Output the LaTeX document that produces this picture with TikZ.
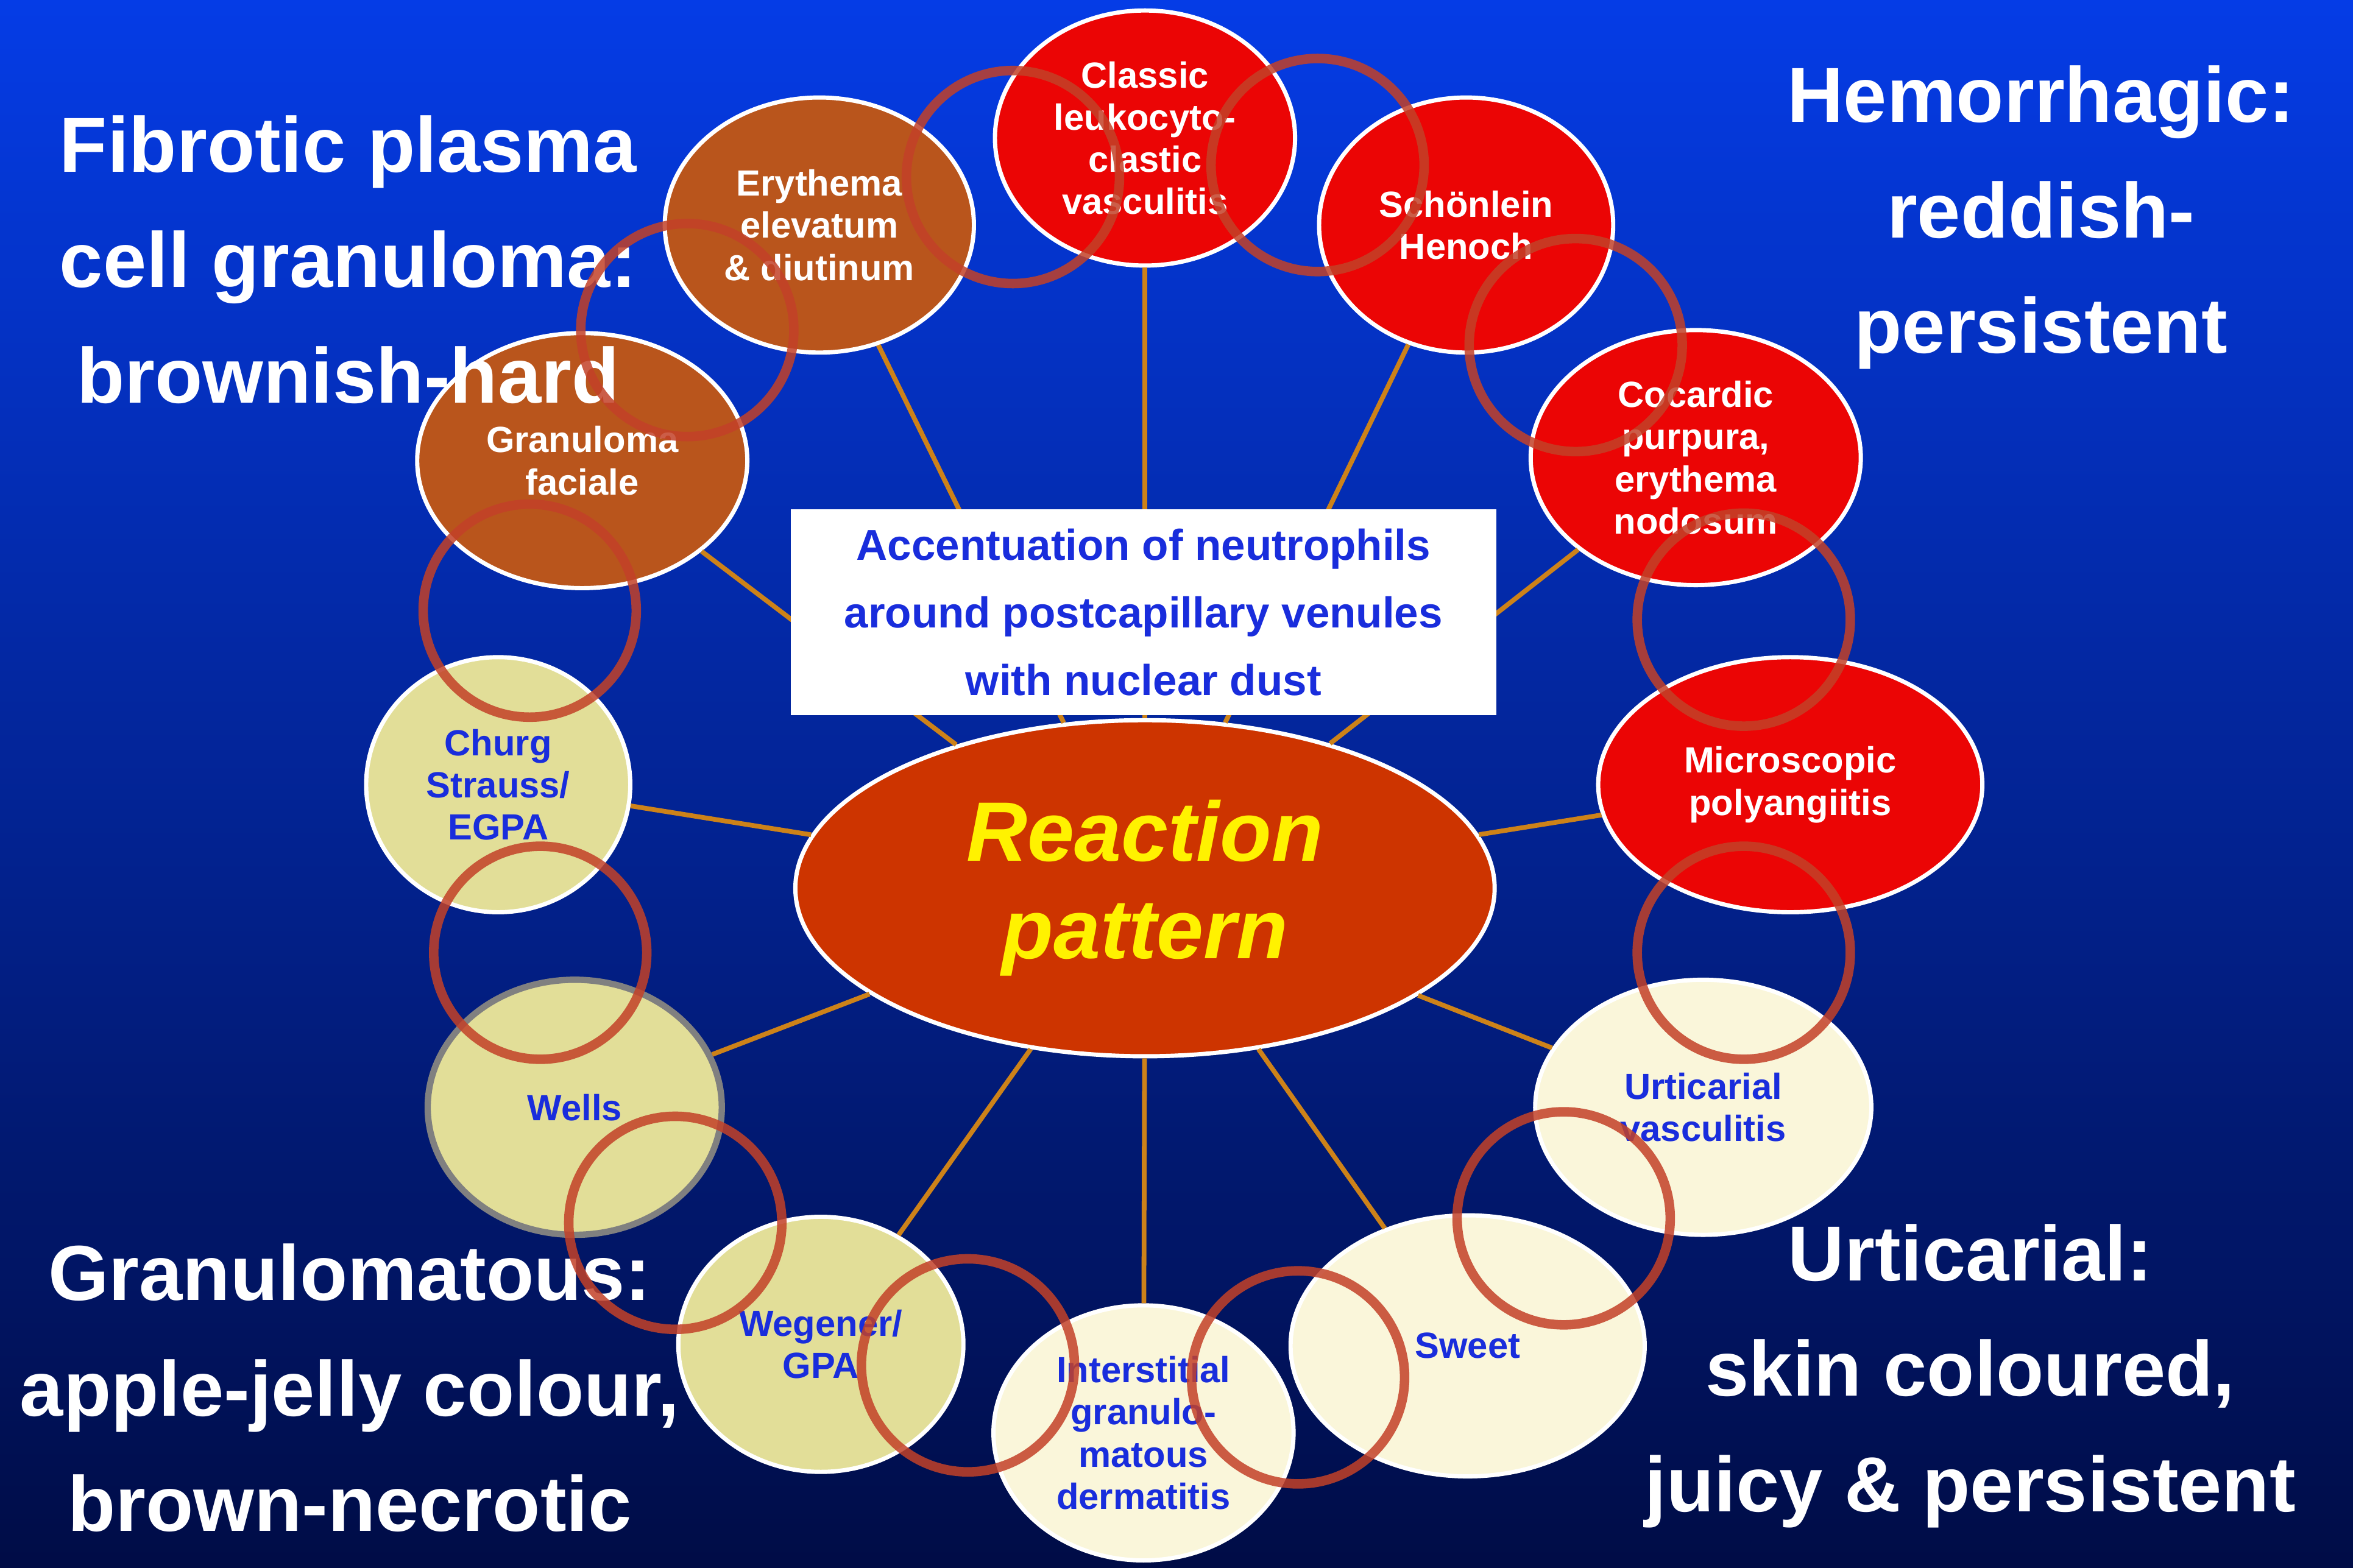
\documentclass[tikz,border=0pt]{standalone}
\usepackage{fontspec}
\setmainfont{Liberation Sans}
\usetikzlibrary{shapes.geometric}
\definecolor{Topcolor}{RGB}{5, 60, 230}
\definecolor{Botcolor}{RGB}{0, 12, 70}
\definecolor{Redcolor}{RGB}{235, 5, 5}
\definecolor{Browncolor}{RGB}{185, 85, 28}
\definecolor{Applecolor}{RGB}{226, 222, 152}
\definecolor{Skincolor}{RGB}{250, 246, 218}
\definecolor{Centercolor}{RGB}{205, 52, 0}
\definecolor{Linkcolor}{RGB}{205, 130, 25}
\definecolor{Ringcolor}{RGB}{195, 65, 40}
\definecolor{Textblue}{RGB}{25, 45, 220}
\tikzset{
  disease/.style={draw=white, line width=0.8pt, shape=ellipse, inner sep=0pt, align=center,
    font=\fontsize{6.9}{8}\selectfont\bfseries},
  hemo/.style={disease, fill=Redcolor, text=white},
  fibro/.style={disease, fill=Browncolor, text=white},
  granu/.style={disease, fill=Applecolor, text=Textblue},
  urti/.style={disease, fill=Skincolor, text=Textblue},
  link/.style={draw=Linkcolor, line width=0.9pt},
  ring/.style={draw=Ringcolor, opacity=0.85, line width=1.8pt, shape=circle, minimum size=1.42cm},
  corner/.style={text=white, align=center, font=\fontsize{14.8}{21.9}\selectfont\bfseries}
}
\begin{document}
\begin{tikzpicture}
    \useasboundingbox (0, 0) rectangle (15.68, 10.45);
    % background
    \shade[top color=Topcolor, bottom color=Botcolor] (0, 0) rectangle (15.68, 10.45);
    % hemorrhagic
    \node[hemo, minimum width=2.0cm, minimum height=1.7cm] (classic) at (7.63, 9.53) {Classic\\leukocyto-\\clastic\\vasculitis};
    \node[hemo, minimum width=1.96cm, minimum height=1.7cm] (schoenlein) at (9.77, 8.95) {Schönlein\\Henoch};
    \node[hemo, minimum width=2.2cm, minimum height=1.7cm] (cocardic) at (11.3, 7.4) {Cocardic\\purpura,\\erythema\\nodosum};
    \node[hemo, minimum width=2.56cm, minimum height=1.7cm] (micro) at (11.93, 5.22) {Microscopic\\polyangiitis};
    % urticarial
    \node[urti, minimum width=2.24cm, minimum height=1.7cm] (urtvasc) at (11.35, 3.07) {Urticarial\\vasculitis};
    \node[urti, minimum width=2.36cm, minimum height=1.74cm] (sweet) at (9.78, 1.48) {Sweet};
    \node[urti, minimum width=2.0cm, minimum height=1.7cm] (interstitial) at (7.62, 0.9) {Interstitial\\granulo-\\matous\\dermatitis};
    % granulomatous
    \node[granu, minimum width=1.9cm, minimum height=1.7cm] (wegener) at (5.47, 1.49) {Wegener/\\GPA};
    \node[granu, draw=gray, line width=1.2pt, minimum width=1.96cm, minimum height=1.7cm] (wells) at (3.83, 3.07) {Wells};
    \node[granu, minimum width=1.76cm, minimum height=1.7cm] (churg) at (3.32, 5.22) {Churg\\Strauss/\\EGPA};
    % fibrotic
    \node[fibro, minimum width=2.2cm, minimum height=1.7cm] (faciale) at (3.88, 7.38) {Granuloma\\faciale};
    \node[fibro, minimum width=2.06cm, minimum height=1.7cm] (elevatum) at (5.46, 8.95) {Erythema\\elevatum\\\& diutinum};
    % center
    \node[draw=white, line width=0.8pt, shape=ellipse, fill=Centercolor, minimum width=4.66cm, minimum height=2.24cm,
      text=yellow, align=center, font=\fontsize{16}{18.5}\selectfont\bfseries\itshape] (pattern) at (7.63, 4.53) {Reaction\\pattern};
    \foreach \n in {classic, schoenlein, cocardic, micro, urtvasc, sweet, interstitial, wegener, wells, churg, faciale, elevatum}
        \draw[link] (pattern) -- (\n);
    % box
    \node[fill=white, minimum width=4.7cm, minimum height=1.37cm, align=center, text=Textblue,
      font=\fontsize{8.2}{12.8}\selectfont\bfseries] (accent) at (7.62, 6.37) {Accentuation of neutrophils\\around postcapillary venules\\with nuclear dust};
    % corner labels
    \node[corner] (fibrotic) at (2.32, 8.72) {Fibrotic plasma\\cell granuloma:\\brownish-hard};
    \node[corner] (hemorrhagic) at (13.6, 9.0) {Hemorrhagic:\\reddish-\\persistent};
    \node[corner] (granulomatous) at (2.33, 1.2) {Granulomatous:\\apple-jelly colour,\\brown-necrotic};
    \node[corner] (urticarial) at (13.13, 1.28) {Urticarial:\\skin coloured,\\juicy \& persistent};
    % rings
    \node[ring] (r1) at (6.75, 9.27) {};
    \node[ring] (r2) at (8.78, 9.35) {};
    \node[ring] (r3) at (10.5, 8.15) {};
    \node[ring] (r4) at (11.62, 6.32) {};
    \node[ring] (r5) at (11.62, 4.1) {};
    \node[ring] (r6) at (10.42, 2.33) {};
    \node[ring] (r7) at (8.65, 1.27) {};
    \node[ring] (r8) at (6.45, 1.35) {};
    \node[ring] (r9) at (4.5, 2.3) {};
    \node[ring] (r10) at (3.6, 4.1) {};
    \node[ring] (r11) at (3.53, 6.38) {};
    \node[ring] (r12) at (4.58, 8.25) {};
\end{tikzpicture}
\end{document}
